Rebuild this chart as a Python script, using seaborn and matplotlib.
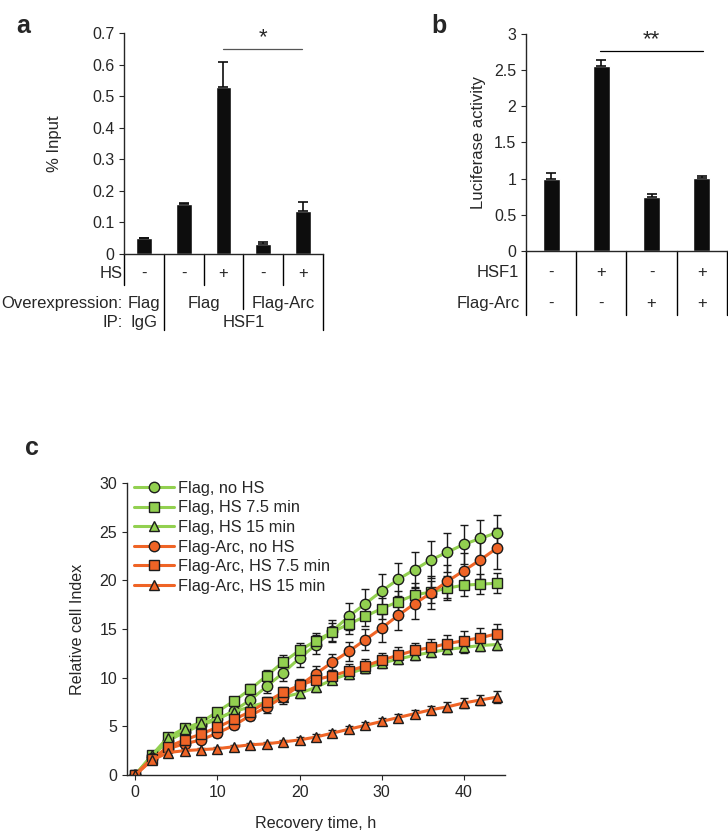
import numpy as np
import pandas as pd
import matplotlib
matplotlib.use("Agg")
import matplotlib.pyplot as plt
import seaborn as sns

# ---- panel a: ChIP, % input
a_vals = [0.05, 0.158, 0.53, 0.033, 0.135]
a_err = [0.002, 0.005, 0.077, 0.005, 0.03]
a_hs = ["-", "-", "+", "-", "+"]

# ---- panel b: luciferase
b_vals = [1.0, 2.56, 0.75, 1.01]
b_err = [0.08, 0.08, 0.04, 0.02]
b_hsf1 = ["-", "+", "-", "+"]
b_arc = ["-", "-", "+", "+"]

# ---- panel c: relative cell index over recovery time
time = [0, 2, 4, 6, 8, 10, 12, 14, 16, 18, 20, 22, 24, 26, 28, 30, 32, 34, 36, 38, 40, 42, 44]
flag_nohs = [0, 1.9, 3.5, 4.4, 5.1, 5.7, 6.6, 7.7, 9.1, 10.5, 12.0, 13.4, 14.8, 16.3, 17.6, 18.9, 20.1, 21.1, 22.1, 22.9, 23.7, 24.3, 24.9]
flag_nohs_err = [0, 0.2, 0.3, 0.3, 0.4, 0.5, 0.5, 0.6, 0.7, 0.8, 0.9, 1.0, 1.1, 1.4, 1.5, 1.7, 1.7, 1.8, 1.9, 2.0, 2.0, 1.9, 1.8]
flag_hs75 = [0, 2.0, 3.9, 4.8, 5.4, 6.5, 7.6, 8.8, 10.2, 11.6, 12.8, 13.8, 14.7, 15.5, 16.3, 17.1, 17.8, 18.5, 18.8, 19.2, 19.5, 19.6, 19.7]
flag_hs75_err = [0, 0.2, 0.3, 0.3, 0.3, 0.4, 0.4, 0.5, 0.6, 0.7, 0.8, 0.8, 0.9, 1.0, 1.0, 1.1, 1.1, 1.2, 1.1, 1.2, 1.1, 1.0, 1.0]
flag_hs15 = [0, 2.0, 3.8, 4.7, 5.3, 5.8, 6.5, 7.0, 7.5, 8.0, 8.4, 9.0, 9.8, 10.4, 11.0, 11.5, 11.9, 12.3, 12.6, 12.9, 13.1, 13.3, 13.4]
flag_hs15_err = [0, 0.2, 0.2, 0.3, 0.3, 0.3, 0.3, 0.4, 0.4, 0.4, 0.5, 0.5, 0.5, 0.5, 0.5, 0.5, 0.5, 0.5, 0.5, 0.5, 0.6, 0.6, 0.6]
arc_nohs = [0, 1.7, 2.7, 3.2, 3.6, 4.3, 5.1, 6.1, 7.0, 8.0, 9.2, 10.4, 11.6, 12.7, 13.9, 15.1, 16.4, 17.6, 18.7, 19.9, 21.0, 22.1, 23.3]
arc_nohs_err = [0, 0.2, 0.2, 0.3, 0.3, 0.4, 0.4, 0.5, 0.6, 0.7, 0.7, 0.8, 0.8, 1.0, 1.1, 1.4, 1.5, 1.6, 1.7, 1.7, 1.8, 2.0, 2.1]
arc_hs75 = [0, 1.6, 2.9, 3.6, 4.2, 4.9, 5.7, 6.5, 7.5, 8.5, 9.2, 9.8, 10.2, 10.7, 11.2, 11.8, 12.3, 12.8, 13.1, 13.5, 13.8, 14.1, 14.5]
arc_hs75_err = [0, 0.2, 0.2, 0.3, 0.3, 0.3, 0.4, 0.4, 0.5, 0.5, 0.6, 0.6, 0.6, 0.7, 0.7, 0.7, 0.8, 0.8, 0.9, 0.9, 1.0, 1.0, 1.0]
arc_hs15 = [0, 1.5, 2.3, 2.5, 2.6, 2.7, 2.9, 3.1, 3.2, 3.4, 3.6, 3.9, 4.3, 4.7, 5.1, 5.5, 5.9, 6.3, 6.7, 7.0, 7.4, 7.7, 8.0]
arc_hs15_err = [0, 0.1, 0.2, 0.2, 0.2, 0.2, 0.2, 0.2, 0.2, 0.2, 0.3, 0.3, 0.3, 0.3, 0.3, 0.4, 0.4, 0.4, 0.4, 0.5, 0.5, 0.5, 0.6]

groups = ["Flag, no HS", "Flag, HS 7.5 min", "Flag, HS 15 min",
          "Flag-Arc, no HS", "Flag-Arc, HS 7.5 min", "Flag-Arc, HS 15 min"]
series = [flag_nohs, flag_hs75, flag_hs15, arc_nohs, arc_hs75, arc_hs15]
errs = [flag_nohs_err, flag_hs75_err, flag_hs15_err, arc_nohs_err, arc_hs75_err, arc_hs15_err]

green = "#92D050"
orange = "#EF6426"
palette = dict(zip(groups, [green] * 3 + [orange] * 3))
markers = dict(zip(groups, ["o", "s", "^"] * 2))

FS = 12      # text size
TS = 11.5    # tick label size

sns.set_style("ticks")
plt.rcParams["font.family"] = ["Liberation Sans", "DejaVu Sans"]
plt.rcParams["font.size"] = FS
plt.rcParams["axes.linewidth"] = 1.0
plt.rcParams["xtick.major.size"] = 3.5
plt.rcParams["ytick.major.size"] = 3.5
plt.rcParams["xtick.labelsize"] = TS
plt.rcParams["ytick.labelsize"] = TS

fig = plt.figure(figsize=(7.28, 8.35), dpi=100)

fmt = matplotlib.ticker.FuncFormatter(lambda v, p: "%g" % round(v, 2))

# ================= panel a
ax = fig.add_axes([0.1703, 0.6958, 0.2734, 0.2647])
xa = np.arange(len(a_vals))
sns.barplot(x=xa, y=a_vals, color="#0d0d0d", width=0.4, ax=ax, saturation=1)
ax.errorbar(xa, a_vals, yerr=[np.zeros(len(a_err)), a_err], fmt="none",
            ecolor="#0d0d0d", elinewidth=1.2, capsize=3.5, capthick=1.2)
ax.set_xlim(-0.5, 4.5)
ax.set_ylim(0, 0.7)
ax.set_yticks(np.arange(0, 0.71, 0.1))
ax.yaxis.set_major_formatter(fmt)
ax.tick_params(axis="x", bottom=False, labelbottom=False)
sns.despine(ax=ax)
ax.set_xlabel("")
ax.set_ylabel("% Input", fontsize=FS)
ax.yaxis.set_label_coords(-0.31, 0.5)

tr = ax.get_xaxis_transform()
# table grid lines
for xb, yend in [(-0.5, -0.14), (0.5, -0.345), (1.5, -0.14), (2.5, -0.25), (3.5, -0.14), (4.5, -0.345)]:
    ax.plot([xb, xb], [0, yend], color="black", lw=1, transform=tr, clip_on=False)
for i, s in enumerate(a_hs):
    ax.text(i, -0.086, s, ha="center", va="center", transform=tr, fontsize=FS)
ax.text(-0.53, -0.086, "HS", ha="right", va="center", transform=tr, fontsize=FS)
ax.text(-0.53, -0.222, "Overexpression:", ha="right", va="center", transform=tr, fontsize=FS)
ax.text(-0.53, -0.312, "IP:", ha="right", va="center", transform=tr, fontsize=FS)
ax.text(0, -0.222, "Flag", ha="center", va="center", transform=tr, fontsize=FS)
ax.text(0, -0.312, "IgG", ha="center", va="center", transform=tr, fontsize=FS)
ax.text(1.5, -0.222, "Flag", ha="center", va="center", transform=tr, fontsize=FS)
ax.text(3.5, -0.222, "Flag-Arc", ha="center", va="center", transform=tr, fontsize=FS)
ax.text(2.5, -0.312, "HSF1", ha="center", va="center", transform=tr, fontsize=FS)
# significance
ax.plot([2, 3.98], [0.648, 0.648], color="#555555", lw=0.9, clip_on=False)
ax.text(3.0, 0.652, "*", ha="center", va="bottom", fontsize=16)
fig.text(0.022, 0.983, "a", fontsize=18, fontweight="bold", va="top")

# ================= panel b
ax = fig.add_axes([0.7225, 0.6994, 0.2761, 0.2599])
xb_ = np.arange(len(b_vals))
sns.barplot(x=xb_, y=b_vals, color="#0d0d0d", width=0.34, ax=ax, saturation=1)
ax.errorbar(xb_, b_vals, yerr=[np.zeros(len(b_err)), b_err], fmt="none",
            ecolor="#0d0d0d", elinewidth=1.2, capsize=3.5, capthick=1.2)
ax.set_xlim(-0.5, 3.5)
ax.set_ylim(0, 3)
ax.set_yticks([0, 0.5, 1, 1.5, 2, 2.5, 3])
ax.yaxis.set_major_formatter(fmt)
ax.tick_params(axis="x", bottom=False, labelbottom=False)
sns.despine(ax=ax)
ax.set_xlabel("")
ax.set_ylabel("Luciferase activity", fontsize=FS)
ax.yaxis.set_label_coords(-0.2, 0.5)

tr = ax.get_xaxis_transform()
for xb in [-0.5, 0.5, 1.5, 2.5, 3.5]:
    ax.plot([xb, xb], [0, -0.295], color="black", lw=1, transform=tr, clip_on=False)
for i in range(4):
    ax.text(i, -0.097, b_hsf1[i], ha="center", va="center", transform=tr, fontsize=FS)
    ax.text(i, -0.24, b_arc[i], ha="center", va="center", transform=tr, fontsize=FS)
ax.text(-0.63, -0.097, "HSF1", ha="right", va="center", transform=tr, fontsize=FS)
ax.text(-0.63, -0.24, "Flag-Arc", ha="right", va="center", transform=tr, fontsize=FS)
ax.plot([0.97, 3.03], [2.76, 2.76], color="black", lw=0.9, clip_on=False)
ax.text(2.0, 2.77, "**", ha="center", va="bottom", fontsize=16)
fig.text(0.593, 0.983, "b", fontsize=18, fontweight="bold", va="top")

# ================= panel c
ax = fig.add_axes([0.1745, 0.0719, 0.5192, 0.3497])
rows = []
for g, vals in zip(groups, series):
    for t, v in zip(time, vals):
        rows.append({"time": t, "value": v, "group": g})
df = pd.DataFrame(rows)

for g, vals, e in zip(groups, series, errs):
    ax.errorbar(time, vals, yerr=e, fmt="none", ecolor="#1a1a1a",
                elinewidth=1, capsize=3, capthick=1, zorder=1.5)

sns.lineplot(data=df, x="time", y="value", hue="group", style="group",
             hue_order=groups, style_order=groups, palette=palette,
             markers=markers, dashes=False, linewidth=2.2, markersize=7.5,
             markeredgecolor="#1c1c1c", markeredgewidth=1.0, ax=ax, zorder=2)

ax.set_xlim(-1, 45)
ax.set_ylim(0, 30)
ax.set_xticks([0, 10, 20, 30, 40])
ax.set_yticks([0, 5, 10, 15, 20, 25, 30])
sns.despine(ax=ax)
ax.set_xlabel("Recovery time, h", fontsize=11.6)
ax.set_ylabel("Relative cell Index", fontsize=11.6)
ax.yaxis.set_label_coords(-0.112, 0.5)
ax.xaxis.set_label_coords(0.5, -0.14)

handles, labels = ax.get_legend_handles_labels()
ax.legend(handles, labels, loc="upper left", bbox_to_anchor=(0.0, 1.03),
          frameon=False, fontsize=11.8, handlelength=2.45, handletextpad=0.25,
          labelspacing=0.28, borderaxespad=0)
fig.text(0.035, 0.478, "c", fontsize=18, fontweight="bold", va="top")

fig.savefig("out.png", dpi=100)
